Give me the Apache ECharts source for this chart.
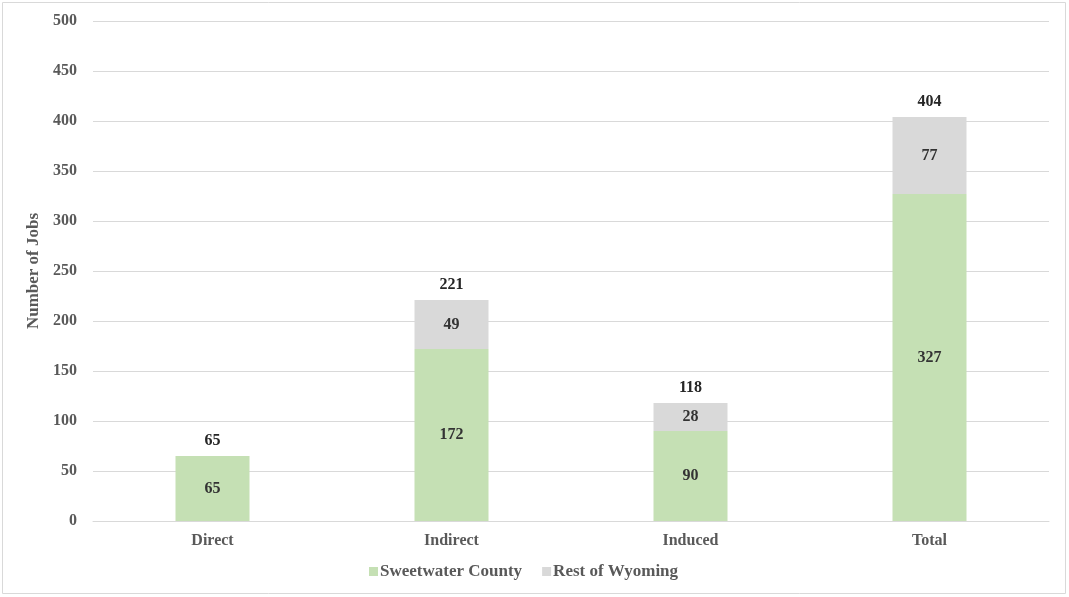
<!DOCTYPE html>
<html><head><meta charset="utf-8">
<script src="https://cdn.jsdelivr.net/npm/echarts@6/dist/echarts.min.js"></script>
<style>
html,body{margin:0;padding:0;background:#fff;}
#c{width:1069px;height:597px;}
</style></head>
<body><div id="c"></div>
<script>
var categories = ['Direct', 'Indirect', 'Induced', 'Total'];
var sweetwater = [65, 172, 90, 327];
var restOfWyoming = [0, 49, 28, 77];
var totals = [65, 221, 118, 404];
var yTicks = [0, 50, 100, 150, 200, 250, 300, 350, 400, 450, 500];

var FONT = '"Liberation Serif", "DejaVu Serif", serif';
var chart = echarts.init(document.getElementById('c'));
var lbl = {show: true, position: 'inside', fontFamily: FONT, fontWeight: 'bold', fontSize: 16, color: '#333333'};
chart.setOption({
  animation: false,
  textStyle: {fontFamily: FONT},
  graphic: [{type: 'rect', shape: {x: 2.5, y: 2.5, width: 1063, height: 591}, style: {fill: 'none', stroke: '#d9d9d9', lineWidth: 1}, silent: true}],
  grid: {left: 93, right: 20, top: 21, bottom: 76, containLabel: false},
  legend: {
    data: ['Sweetwater County', 'Rest of Wyoming'],
    bottom: 12, left: 364, itemWidth: 9, itemHeight: 9, itemGap: 20, icon: 'rect',
    textStyle: {fontFamily: FONT, fontWeight: 'bold', fontSize: 17, color: '#595959', padding: [0, 0, 0, -3]}
  },
  xAxis: {
    type: 'category', data: categories,
    axisLine: {lineStyle: {color: '#d9d9d9'}}, axisTick: {show: false},
    axisLabel: {fontFamily: FONT, fontWeight: 'bold', fontSize: 16, color: '#595959', margin: 12}
  },
  yAxis: {
    type: 'value', min: 0, max: 500, interval: 50,
    name: 'Number of Jobs', nameLocation: 'middle', nameGap: 48, nameRotate: 90,
    nameTextStyle: {fontFamily: FONT, fontWeight: 'bold', fontSize: 17, color: '#595959'},
    axisLine: {show: false}, axisTick: {show: false},
    axisLabel: {fontFamily: FONT, fontWeight: 'bold', fontSize: 16, color: '#595959', margin: 16,
      formatter: function (v) { return yTicks.indexOf(v) >= 0 ? String(v) : ''; }},
    splitLine: {lineStyle: {color: '#d9d9d9'}}
  },
  series: [
    {name: 'Sweetwater County', type: 'bar', stack: 'a', barWidth: 74, data: sweetwater,
      itemStyle: {color: '#c5e0b4'}, label: lbl},
    {name: 'Rest of Wyoming', type: 'bar', stack: 'a', barWidth: 74, data: restOfWyoming,
      itemStyle: {color: '#d9d9d9'},
      label: Object.assign({}, lbl, {formatter: function (p) { return p.value ? String(p.value) : ''; }})},
    {name: 'Total', type: 'bar', barWidth: 74, barGap: '-100%', data: totals, silent: true, z: 1,
      itemStyle: {color: 'rgba(255,255,255,0)'},
      label: {show: true, position: 'top', distance: 7, fontFamily: FONT, fontWeight: 'bold', fontSize: 16, color: '#262626'}}
  ]
});
</script></body></html>
